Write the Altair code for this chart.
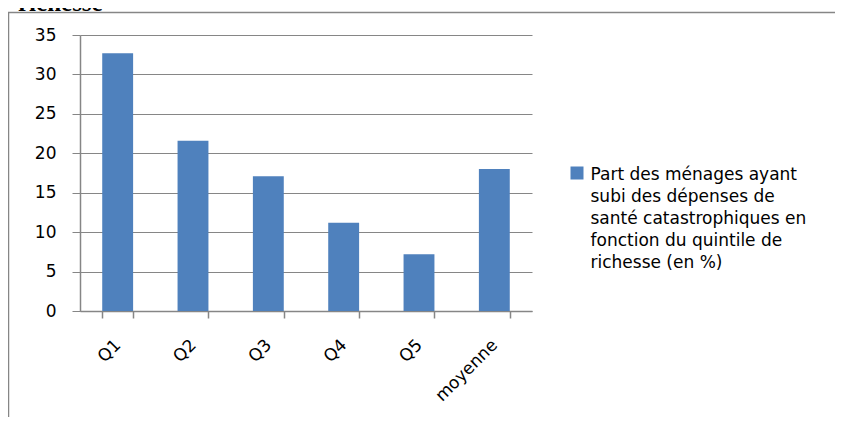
import altair as alt
import pandas as pd

categories = ["Q1", "Q2", "Q3", "Q4", "Q5", "moyenne"]
values = [32.7, 21.6, 17.1, 11.2, 7.2, 18.0]
series_name = ("Part des ménages ayant\nsubi des dépenses de\nsanté catastrophiques en\n"
               "fonction du quintile de\nrichesse (en %)")
y_ticks = [0, 5, 10, 15, 20, 25, 30, 35]
title_text = "richesse"

GRAY = "#868686"
FONT = "DejaVu Sans"
DY = 6.5  # shift of guide labels (to align first legend line with its symbol)

df = pd.DataFrame({"cat": categories, "val": values, "serie": [series_name] * len(categories)})

bars = alt.Chart(df).mark_bar(color="#4F81BD").encode(
    x=alt.X("cat:N", sort=categories,
            scale=alt.Scale(paddingInner=0.59, paddingOuter=0.295),
            axis=alt.Axis(title=None, labelAngle=-45, labelAlign="right", labelBaseline="middle",
                          tickBand="extent", tickSize=7, labelPadding=19.5, labelOffset=-4.6,
                          domainColor=GRAY, tickColor=GRAY, domainWidth=1.5, tickWidth=1.5)),
    y=alt.Y("val:Q", scale=alt.Scale(domain=[0, 35], nice=False),
            axis=alt.Axis(title=None, values=y_ticks, grid=True, gridColor=GRAY, gridWidth=1,
                          tickSize=8, labelPadding=16, labelOffset=-DY,
                          domainColor=GRAY, tickColor=GRAY,
                          domainWidth=1.5, tickWidth=1)),
    color=alt.Color("serie:N", scale=alt.Scale(range=["#4F81BD"]),
                    legend=alt.Legend(title=None, orient="none", legendX=488.5, legendY=129.5,
                                      symbolType="square", symbolSize=169, symbolStrokeWidth=0,
                                      symbolOpacity=1, labelFontSize=17, labelFont=FONT,
                                      labelColor="black", labelOffset=5, labelLimit=400,
                                      labelBaseline="alphabetic", padding=0,
                                      labelExpr="split(datum.label, '\\n')")),
)

frame = alt.Chart(pd.DataFrame({"k": [0]})).mark_rect(
    fill="transparent", stroke=GRAY, strokeWidth=1.5
).encode(x=alt.value(-71.5), x2=alt.value(900), y=alt.value(-22.5), y2=alt.value(500))

title = alt.Chart(pd.DataFrame({"t": [title_text]})).mark_text(
    font="Liberation Serif", fontWeight="bold", fontSize=25, align="left",
    baseline="alphabetic", color="black"
).encode(text="t:N", x=alt.value(-62), y=alt.value(-24.5))

chart = alt.layer(frame, bars, title).properties(
    width=452, height=276,
    autosize=alt.AutoSizeParams(type="none"),
    padding={"left": 72, "top": 27, "right": 303, "bottom": 106},
).configure(
    style={"guide-label": {"lineHeight": 22, "dy": DY}},
    view={"strokeWidth": 0},
    axis={"labelFont": FONT, "labelFontSize": 17, "labelColor": "black"},
)

chart.save("out.html", embed_options={"renderer": "svg", "actions": False})
